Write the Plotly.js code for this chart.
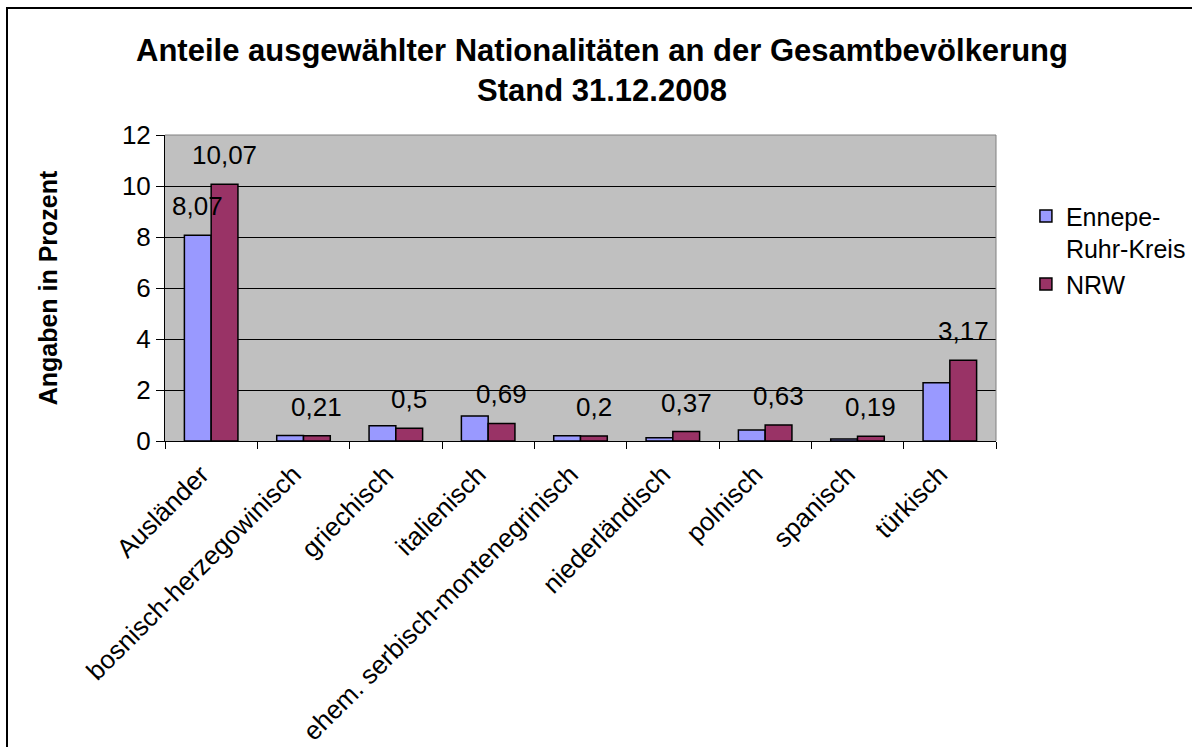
<!DOCTYPE html>
<html>
<head>
<meta charset="utf-8">
<script src="https://cdn.plot.ly/plotly-3.0.1.min.js"></script>
<style>
  html, body { margin: 0; padding: 0; background: #fff; overflow: hidden; }
  #wrap { position: relative; width: 1192px; height: 747px; }
  #chart { position: absolute; left: 0; top: 0; width: 1192px; height: 747px; }
  #frame { position: absolute; left: 6px; top: 7px; width: 1400px; height: 1000px;
           border-left: 2px solid #000; border-top: 2px solid #000; pointer-events: none; }
</style>
</head>
<body>
<div id="wrap">
  <div id="chart"></div>
  <div id="frame"></div>
</div>
<script>
const categories = ['Ausländer', 'bosnisch-herzegowinisch', 'griechisch', 'italienisch',
  'ehem. serbisch-montenegrinisch', 'niederländisch', 'polnisch', 'spanisch', 'türkisch'];
const seriesNames = ['Ennepe-<br>Ruhr-Kreis', 'NRW'];
const ennepeValues = [8.07, 0.22, 0.6, 0.98, 0.21, 0.13, 0.43, 0.08, 2.28];
const nrwValues = [10.07, 0.21, 0.5, 0.69, 0.2, 0.37, 0.63, 0.19, 3.17];
const ennepeLabels = ['8,07', '', '', '', '', '', '', '', ''];
const nrwLabels = ['10,07', '0,21', '0,5', '0,69', '0,2', '0,37', '0,63', '0,19', '3,17'];
const yTicks = [0, 2, 4, 6, 8, 10, 12];

const FONT = 'Liberation Sans, Arial, sans-serif';
const W = 1192, H = 747;
const margin = { l: 165, r: 196, t: 135, b: 306, autoexpand: false };
const bargap = 0.42;
const plotW = W - margin.l - margin.r;
const catW = plotW / categories.length;
const barOffset = catW * (1 - bargap) / 4;

const traces = [
  { type: 'bar', name: seriesNames[0], x: categories, y: ennepeValues,
    marker: { color: '#9999FF', line: { color: '#000', width: 1.5 } }, hoverinfo: 'skip' },
  { type: 'bar', name: seriesNames[1], x: categories, y: nrwValues,
    marker: { color: '#993366', line: { color: '#000', width: 1.5 } }, hoverinfo: 'skip' }
];

const annotations = [];
function addLabels(labels, values, shift) {
  labels.forEach((t, i) => {
    if (!t) return;
    annotations.push({ x: categories[i], y: values[i], xref: 'x', yref: 'y', text: t,
      showarrow: false, xshift: shift, yshift: 29, yanchor: 'middle', xanchor: 'center',
      font: { family: FONT, size: 26, color: '#000' } });
  });
}
addLabels(ennepeLabels, ennepeValues, -barOffset);
addLabels(nrwLabels, nrwValues, barOffset);

const layout = {
  width: W, height: H, autosize: false,
  margin: margin,
  paper_bgcolor: 'rgba(0,0,0,0)',
  plot_bgcolor: '#C0C0C0',
  font: { family: FONT, size: 26, color: '#000' },
  title: {
    text: '<b>Anteile ausgewählter Nationalitäten an der Gesamtbevölkerung<br>Stand 31.12.2008</b>',
    font: { family: FONT, size: 31, color: '#000' },
    x: 602 / W, xref: 'container', xanchor: 'center',
    y: 1 - 61 / H, yref: 'container', yanchor: 'top'
  },
  barmode: 'group', bargap: bargap, bargroupgap: 0,
  xaxis: {
    type: 'category', tickangle: -45, tickson: 'boundaries',
    ticks: 'outside', ticklen: 7, tickcolor: '#000', tickwidth: 1,
    showline: true, linecolor: '#000', linewidth: 1,
    showgrid: false, zeroline: false, ticklabelstandoff: 7, ticklabelshift: -10,
    tickfont: { family: FONT, size: 26, color: '#000' },
    automargin: false
  },
  yaxis: {
    range: [0, 12], tickvals: yTicks, ticktext: yTicks.map(String),
    ticks: 'outside', ticklen: 8, tickcolor: '#000', tickwidth: 1,
    showline: true, linecolor: '#000', linewidth: 1,
    showgrid: true, gridcolor: '#000', gridwidth: 1, zeroline: false,
    tickfont: { family: FONT, size: 26, color: '#000' },
    title: { text: '<b>Angaben in Prozent</b>', font: { family: FONT, size: 25, color: '#000' }, standoff: 57 },
    automargin: false
  },
  legend: {
    x: 1.036, y: 0.81, xanchor: 'left', yanchor: 'top', valign: 'top',
    bgcolor: 'rgba(0,0,0,0)', borderwidth: 0,
    font: { family: FONT, size: 25, color: '#000' }, traceorder: 'normal'
  },
  shapes: [
    { type: 'path', xref: 'paper', yref: 'paper', path: 'M0,1 L1,1 L1,0',
      line: { color: '#808080', width: 1 }, layer: 'above' }
  ],
  annotations: annotations
};

Plotly.newPlot('chart', traces, layout, { displayModeBar: false, staticPlot: true });
</script>
</body>
</html>
